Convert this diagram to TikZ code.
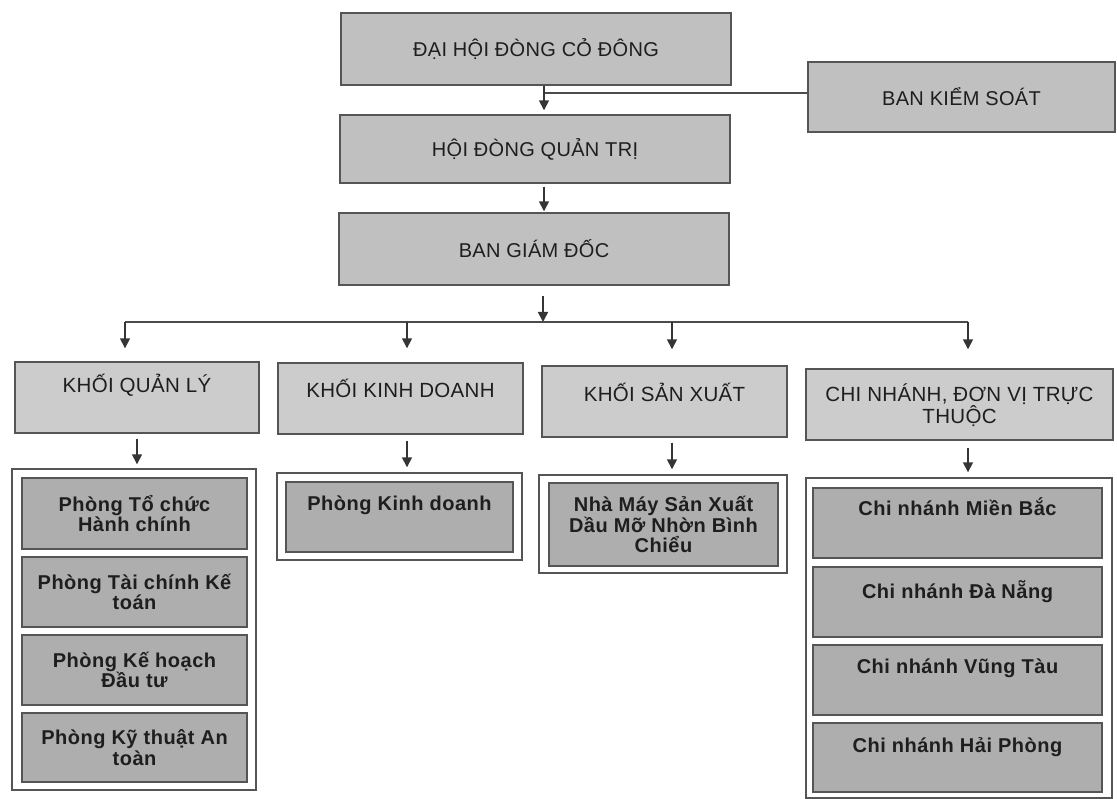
\documentclass[tikz,border=0pt]{standalone}
\usepackage{fontspec}
\setmainfont{Liberation Sans}
\usetikzlibrary{arrows.meta}
\definecolor{topfill}{RGB}{192,192,192}
\definecolor{titlefill}{RGB}{204,204,204}
\definecolor{innerfill}{RGB}{174,174,174}
\definecolor{edge}{RGB}{85,85,85}
\definecolor{ink}{RGB}{30,30,30}
\begin{document}
\begin{tikzpicture}[x=1pt,y=-1pt,
  topbox/.style={draw=edge, line width=1.4pt, fill=topfill, inner sep=0pt, text=ink,
    font=\fontsize{20}{21}\selectfont\addfontfeatures{LetterSpace=1.5}, align=center},
  titlebox/.style={draw=edge, line width=1.4pt, fill=titlefill, inner sep=0pt},
  holder/.style={draw=edge, line width=1.4pt, fill=white, inner sep=0pt},
  innerbox/.style={draw=edge, line width=1.2pt, fill=innerfill, inner sep=0pt, text=ink,
    font=\fontsize{20}{20.5}\selectfont\bfseries\addfontfeatures{LetterSpace=2.5}, align=center},
  titletext/.style={inner sep=0pt, text=ink, font=\fontsize{20.5}{21}\selectfont\addfontfeatures{LetterSpace=1.5}, align=center},
  innertext/.style={inner sep=0pt, text=ink, font=\fontsize{20}{20.5}\selectfont\bfseries\addfontfeatures{LetterSpace=2.5}, align=center},
  arr/.style={draw=ink!90, line width=1.6pt, -{Triangle[length=10pt,width=10pt]}},
  line/.style={draw=ink!80, line width=1.4pt}
]
\useasboundingbox (0,0) rectangle (1117,799);
% top level
\node[topbox, minimum width=390pt, minimum height=72pt] (dh) at (536,49) {ĐẠI HỘI ĐÒNG CỎ ĐÔNG};
\node[topbox, minimum width=307pt, minimum height=70pt] (bks) at (961.5,97) {BAN KIỂM SOÁT};
\node[topbox, minimum width=390pt, minimum height=68pt] (hdqt) at (535,149) {HỘI ĐÒNG QUẢN TRỊ};
\node[topbox, minimum width=390pt, minimum height=72pt] (bgd) at (534,249) {BAN GIÁM ĐỐC};
% helper coordinates
\coordinate (ax) at (544,0);
\coordinate (j1) at (544,93);
\coordinate (bus) at (543,322);
\coordinate (b1) at (125,322);
\coordinate (b2) at (407,322);
\coordinate (b3) at (672,322);
\coordinate (b4) at (968,322);
% block titles
\node[titlebox, minimum width=244pt, minimum height=71pt] (kql) at (137,397.5) {};
\node[titlebox, minimum width=245pt, minimum height=71pt] (kkd) at (400.5,398.5) {};
\node[titlebox, minimum width=245pt, minimum height=71pt] (ksx) at (664.5,401.5) {};
\node[titlebox, minimum width=307pt, minimum height=71pt] (kcn) at (959.5,404.5) {};
\node[titletext] (tql) at (137,385) {KHỐI QUẢN LÝ};
\node[titletext] (tkd) at (400.5,388) {KHỐI KINH DOANH};
\node[titletext] (tsx) at (664.5,392) {KHỐI SẢN XUẤT};
\node[titletext] (tcn) at (959.5,405.5) {CHI NHÁNH, ĐƠN VỊ TRỰC\\THUỘC};
% holders
\node[holder, minimum width=244pt, minimum height=321pt] (cql) at (134,629.5) {};
\node[holder, minimum width=245pt, minimum height=87pt] (ckd) at (399.5,516.5) {};
\node[holder, minimum width=248pt, minimum height=98pt] (csx) at (663,524) {};
\node[holder, minimum width=306pt, minimum height=320pt] (ccn) at (959,638) {};
% inner boxes
\node[innerbox, minimum width=225pt, minimum height=71pt] (q1) at (134.5,513.5) {Phòng Tổ chức\\Hành chính};
\node[innerbox, minimum width=225pt, minimum height=70pt] (q2) at (134.5,592) {Phòng Tài chính Kế\\toán};
\node[innerbox, minimum width=225pt, minimum height=70pt] (q3) at (134.5,670) {Phòng Kế hoạch\\Đầu tư};
\node[innerbox, minimum width=225pt, minimum height=69pt] (q4) at (134.5,747.5) {Phòng Kỹ thuật An\\toàn};
\node[innerbox, minimum width=227pt, minimum height=70pt] (kd1) at (399.5,517) {};
\node[innertext] (tkd1) at (399.5,505) {Phòng Kinh doanh};
\node[innerbox, minimum width=229pt, minimum height=83pt] (sx1) at (663.5,524.5) {Nhà Máy Sản Xuất\\Dầu Mỡ Nhờn Bình\\Chiểu};
\node[innerbox, minimum width=289pt, minimum height=70pt] (cn1) at (957.5,523) {};
\node[innerbox, minimum width=289pt, minimum height=70pt] (cn2) at (957.5,602) {};
\node[innerbox, minimum width=289pt, minimum height=70pt] (cn3) at (957.5,680) {};
\node[innerbox, minimum width=289pt, minimum height=69pt] (cn4) at (957.5,757.5) {};
\node[innertext] (tcn1) at (957.5,507) {Chi nhánh Miền Bắc};
\node[innertext] (tcn2) at (957.5,592) {Chi nhánh Đà Nẵng};
\node[innertext] (tcn3) at (957.5,668) {Chi nhánh Vũng Tàu};
\node[innertext] (tcn4) at (957.5,747) {Chi nhánh Hải Phòng};
% connectors
\draw[line] (bks.west |- j1) -- (j1);
\draw[arr, shorten >=4pt] (dh.south -| ax) -- (hdqt.north -| ax);
\draw[arr, shorten <=3pt, shorten >=1pt] (hdqt.south -| ax) -- (bgd.north -| ax);
\draw[arr, shorten <=10pt] (bgd.south -| bus) -- (bus);
\draw[line] (b1) -- (b4);
\draw[arr, shorten >=13pt] (b1) -- (b1 |- kql.north);
\draw[arr, shorten >=14pt] (b2) -- (b2 |- kkd.north);
\draw[arr, shorten >=16pt] (b3) -- (b3 |- ksx.north);
\draw[arr, shorten >=19pt] (b4) -- (b4 |- kcn.north);
\draw[arr, shorten <=5pt, shorten >=4pt] (kql.south) -- (cql.north -| kql.south);
\draw[arr, shorten <=6pt, shorten >=5pt] (kkd.south -| b2) -- (ckd.north -| b2);
\draw[arr, shorten <=5pt, shorten >=5pt] (ksx.south -| b3) -- (csx.north -| b3);
\draw[arr, shorten <=7pt, shorten >=5pt] (kcn.south -| b4) -- (ccn.north -| b4);
\end{tikzpicture}
\end{document}
